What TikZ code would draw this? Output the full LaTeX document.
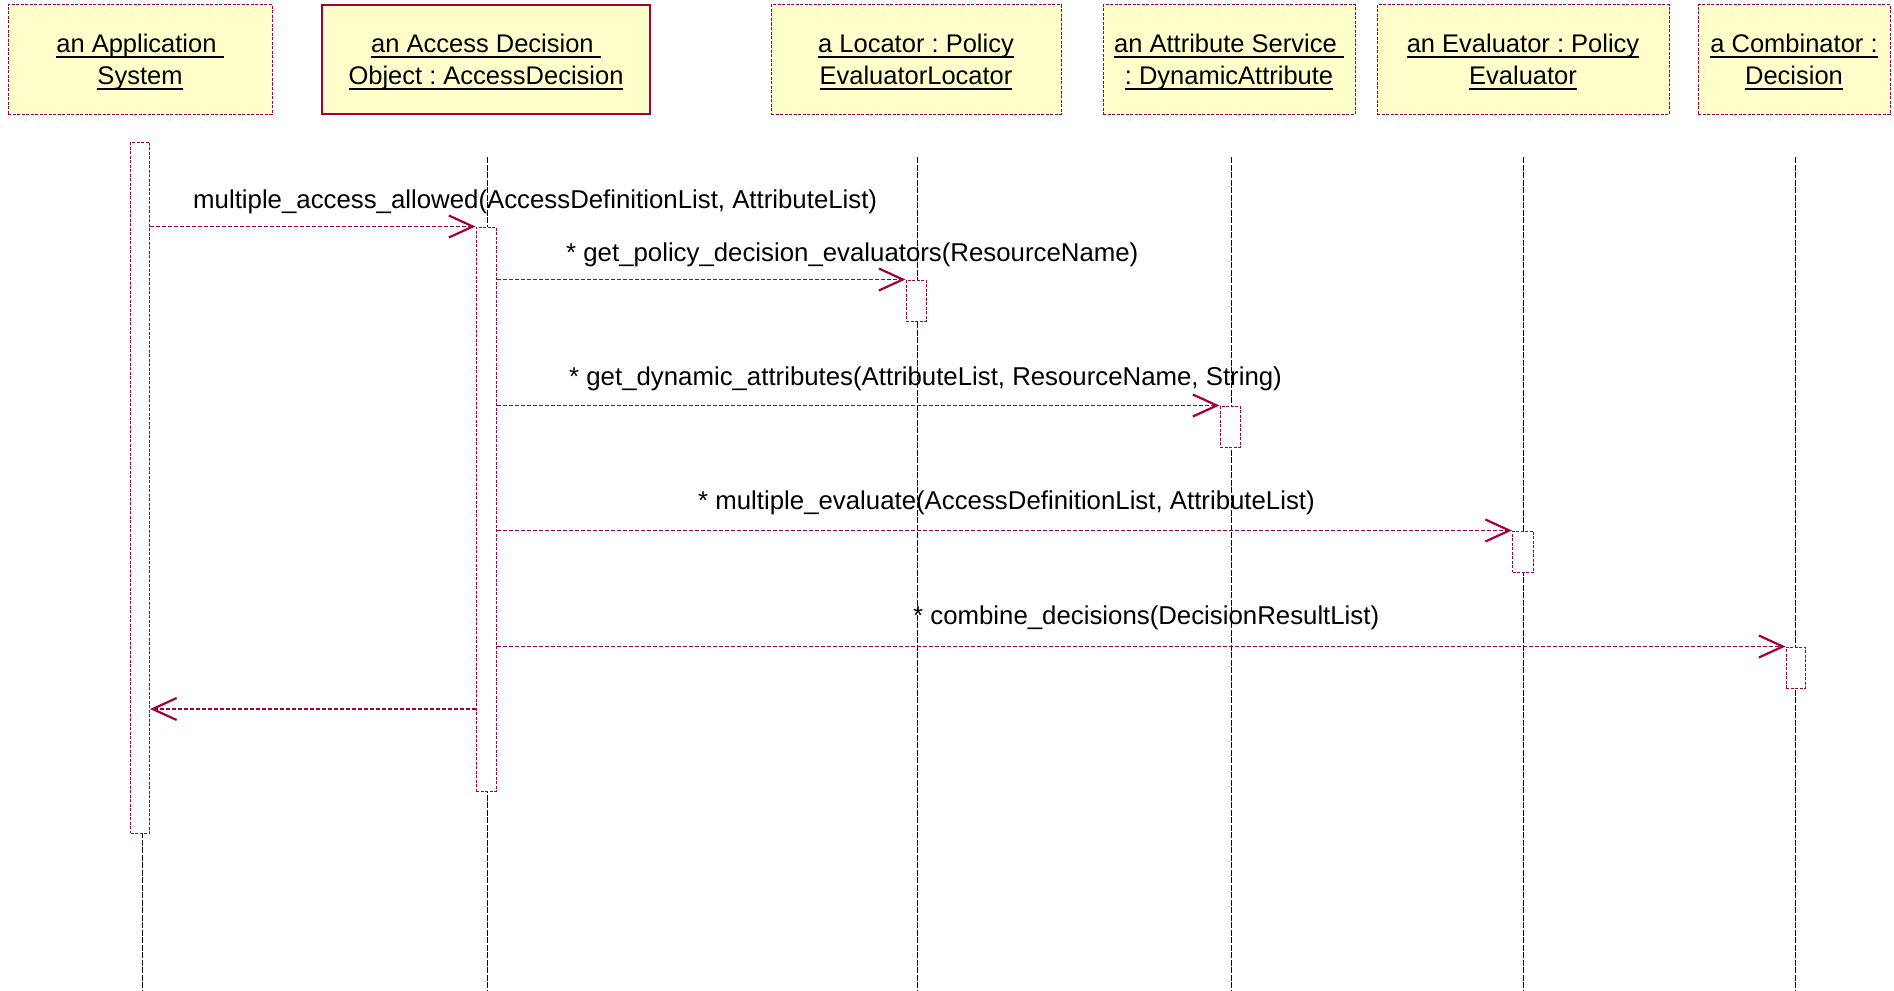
\documentclass[tikz,border=0pt]{standalone}
\usepackage{fontspec}
\setmainfont{Liberation Sans}
\usetikzlibrary{arrows.meta}
\definecolor{crim}{RGB}{165,0,60}
\definecolor{boxfill}{RGB}{255,255,204}
\frenchspacing
\newcommand\myul[1]{\setbox0\hbox{#1}\rlap{\rule[-5pt]{\wd0}{1.8pt}}\box0}
\begin{document}
\begin{tikzpicture}[x=1pt,y=-1pt,
  objbox/.style={draw=crim, dash pattern=on 3pt off 1.5pt, fill=boxfill, line width=1pt,
    minimum height=109pt, inner sep=0pt},
  objsolid/.style={objbox, solid, line width=1.3pt},
  boxtxt/.style={inner sep=0pt, align=center, yshift=-2.5pt,
    font=\fontsize{25.5}{32}\selectfont},
  act/.style={draw=crim, dash pattern=on 3pt off 1.5pt, fill=white, line width=1pt,
    minimum width=19pt, inner sep=0pt},
  lifeline/.style={draw=black, line width=0.8pt, dash pattern=on 6pt off 1.5pt},
  msg/.style={draw=crim, line width=1.2pt, dash pattern=on 4pt off 2pt,
    -{Straight Barb[length=24pt,width=22pt,line width=2.2pt]}},
  lbl/.style={anchor=west, inner sep=0pt, font=\fontsize{25.8}{30}\selectfont}]
\useasboundingbox (0,0) rectangle (1894,990);

% object boxes
\node[objbox, minimum width=264pt] (oApp) at (140,59.5) {};
\node[objsolid, minimum width=328pt] (oAD) at (486,59.5) {};
\node[objbox, minimum width=290pt] (oLoc) at (916,59.5) {};
\node[objbox, minimum width=252pt] (oAttr) at (1229,59.5) {};
\node[objbox, minimum width=292pt] (oEval) at (1523,59.5) {};
\node[objbox, minimum width=192pt] (oComb) at (1794,59.5) {};
\node[boxtxt] (xApp) at (oApp.center) {\myul{an Application\ }\\\myul{System}};
\node[boxtxt] (xAD) at (oAD.center) {\myul{an Access Decision\ }\\\myul{Object : AccessDecision}};
\node[boxtxt] (xLoc) at (oLoc.center) {\myul{a Locator : Policy}\\\myul{EvaluatorLocator}};
\node[boxtxt] (xAttr) at (oAttr.center) {\myul{an Attribute Service\ }\\\myul{: DynamicAttribute}};
\node[boxtxt] (xEval) at (oEval.center) {\myul{an Evaluator : Policy}\\\myul{Evaluator}};
\node[boxtxt] (xComb) at (oComb.center) {\myul{a Combinator :}\\\myul{Decision}};

% lifelines
\coordinate (tApp) at (142,157);  \coordinate (bApp) at (142,990);
\coordinate (tAD) at (487,157);   \coordinate (bAD) at (487,990);
\coordinate (tLoc) at (917,157);  \coordinate (bLoc) at (917,990);
\coordinate (tAttr) at (1231,157); \coordinate (bAttr) at (1231,990);
\coordinate (tEval) at (1523,157); \coordinate (bEval) at (1523,990);
\coordinate (tComb) at (1795,157); \coordinate (bComb) at (1795,990);
\draw[lifeline] (tApp) -- (bApp);
\draw[lifeline] (tAD) -- (bAD);
\draw[lifeline] (tLoc) -- (bLoc);
\draw[lifeline] (tAttr) -- (bAttr);
\draw[lifeline] (tEval) -- (bEval);
\draw[lifeline] (tComb) -- (bComb);

% activations
\node[act, minimum height=691pt] (actApp) at (140,487.5) {};
\node[act, minimum height=564pt, minimum width=20pt] (actAD) at (486,509) {};
\node[act, minimum height=41pt, minimum width=20pt] (actLoc) at (916,300.5) {};
\node[act, minimum height=41pt, minimum width=20pt] (actAttr) at (1230,426.5) {};
\node[act, minimum height=41pt, minimum width=21pt] (actEval) at (1523,551.5) {};
\node[act, minimum height=41pt] (actComb) at (1795.5,667.5) {};

% messages
\draw[msg] (actApp.east |- actAD.north) -- (actAD.north west);
\draw[msg] (actAD.east |- actLoc.north) -- (actLoc.north west);
\draw[msg] (actAD.east |- actAttr.north) -- (actAttr.north west);
\draw[msg] (actAD.east |- actEval.north) -- (actEval.north west);
\draw[msg] (actAD.east |- actComb.north) -- (actComb.north west);
\coordinate (ret) at (476,709);
\draw[msg] (actAD.west |- ret) -- (actApp.east |- ret);

% labels
\node[lbl] (l1) at (193,202) {multiple\_access\_allowed(AccessDefinitionList, AttributeList)};
\node[lbl] (l2) at (566,255) {* get\_policy\_decision\_evaluators(ResourceName)};
\node[lbl] (l3) at (569,379) {* get\_dynamic\_attributes(AttributeList, ResourceName, String)};
\node[lbl] (l4) at (698,503) {* multiple\_evaluate(AccessDefinitionList, AttributeList)};
\node[lbl] (l5) at (913,618) {* combine\_decisions(DecisionResultList)};
\end{tikzpicture}
\end{document}
